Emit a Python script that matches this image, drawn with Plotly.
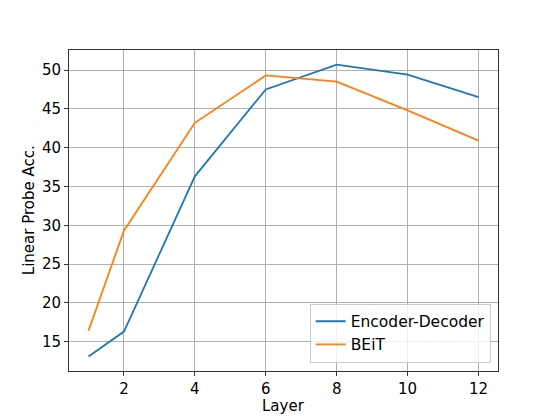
import plotly.graph_objects as go

layers = [1, 2, 4, 6, 8, 10, 12]
enc_dec = [13.1, 16.3, 36.3, 47.5, 50.7, 49.4, 46.5]
beit = [16.4, 29.3, 43.2, 49.3, 48.5, 44.8, 40.9]
x_ticks = [2, 4, 6, 8, 10, 12]
y_ticks = [15, 20, 25, 30, 35, 40, 45, 50]

font = dict(family="DejaVu Sans", size=15, color="black")
legend_font = dict(family="DejaVu Sans", size=15.5, color="black")

fig = go.Figure()
fig.add_trace(go.Scatter(x=layers, y=enc_dec, mode="lines", name="Encoder-Decoder",
                         line=dict(color="#1f77b4", width=1.8)))
fig.add_trace(go.Scatter(x=layers, y=beit, mode="lines", name="BEiT",
                         line=dict(color="#ff7f0e", width=1.8)))

axis_common = dict(showline=True, linecolor="#333333", linewidth=1, mirror=True,
                   ticks="outside", ticklen=4, tickcolor="#333333", tickwidth=1,
                   showgrid=True, gridcolor="#b0b0b0", gridwidth=1, zeroline=False,
                   tickfont=font, automargin=False)

fig.update_xaxes(range=[0.45, 12.55], tickvals=x_ticks, **axis_common)
fig.update_yaxes(range=[11.22, 52.58], tickvals=y_ticks, **axis_common)

# The page body adds an 8px margin, so the figure is sized to fit the window.
fig.update_layout(
    width=546, height=409,
    margin=dict(l=61, r=56, t=42, b=46),
    paper_bgcolor="white", plot_bgcolor="white",
    font=font,
    showlegend=True,
    legend=dict(x=0.983, y=0.026, xanchor="right", yanchor="bottom",
                bgcolor="rgba(255,255,255,0.8)", bordercolor="#cccccc", borderwidth=1,
                font=legend_font, tracegroupgap=0),
    annotations=[
        dict(text="Layer", xref="paper", yref="paper", x=0.5, y=-0.109,
             xanchor="center", yanchor="middle", showarrow=False, font=font),
        dict(text="Linear Probe Acc.", xref="paper", yref="paper", x=-0.094, y=0.5,
             xanchor="center", yanchor="middle", textangle=-90, showarrow=False, font=font),
    ],
)

fig.write_html("out.html")
